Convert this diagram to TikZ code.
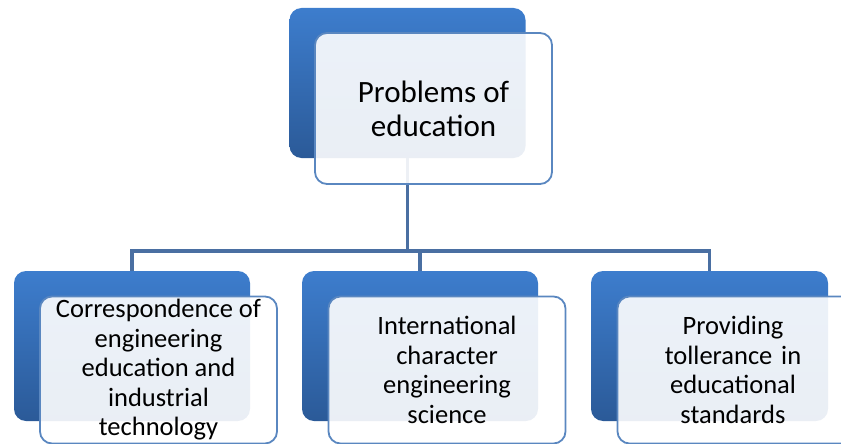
\documentclass[tikz,border=0pt]{standalone}
\usepackage{fontspec}
\setmainfont{Carlito}
\begin{document}
\begin{tikzpicture}[x=1pt,y=-1pt,
  backbox/.style={rounded corners=12pt, top color=blueTop, bottom color=blueBot,
    draw=none, minimum width=236pt, minimum height=150pt, inner sep=0pt},
  frontbox/.style={rounded corners=12pt, draw=frameBlue, line width=1.8pt,
    fill=white, fill opacity=0.9, text opacity=1, minimum width=237pt,
    inner sep=0pt, align=center, text=black},
  toptext/.style={font=\fontsize{31}{34}\selectfont},
  subtext/.style={font=\fontsize{26.5}{29.5}\selectfont},
  conn/.style={draw=lineBlue, line width=3.4pt}
]
\definecolor{blueTop}{HTML}{3D7DCD}
\definecolor{blueBot}{HTML}{2B5A98}
\definecolor{frameBlue}{HTML}{5A87C0}
\definecolor{lineBlue}{HTML}{4A6FA2}
\useasboundingbox (0,0) rectangle (841,444);
\begin{scope}
\clip (0,0) rectangle (841,444);
% back (dark) boxes
\node[backbox] (tb) at (407.5,83) {};
\node[backbox] (b1) at (132,346) {};
\node[backbox] (b2) at (420,346) {};
\node[backbox, minimum width=237pt] (b3) at (709.5,346) {};
% connectors
\coordinate (j) at (407.5,251);
\draw[conn] (tb.south) |- (b1.north |- j) -- (b1.north);
\draw[conn] (tb.south) |- (b2.north |- j) -- (b2.north);
\draw[conn] (tb.south) |- (b3.north |- j) -- (b3.north);
% front (light) boxes with text
\node[frontbox, minimum height=151pt, toptext] (tf) at (433.5,108.5)
  {Problems of\\education};
\node[frontbox, minimum height=147pt, subtext] (f1) at (158.5,370)
  {Correspondence of\\engineering\\education and\\industrial\\technology};
\node[frontbox, minimum height=147pt, subtext] (f2) at (447,370)
  {International\\character\\engineering\\science};
\node[frontbox, minimum height=147pt, subtext, text width=237pt] (f3) at (736,370)
  {\hspace*{-6pt}Providing\\\hspace*{-6pt}tollerance in\\\hspace*{-6pt}educational\\\hspace*{-6pt}standards};
\end{scope}
\end{tikzpicture}
\end{document}
